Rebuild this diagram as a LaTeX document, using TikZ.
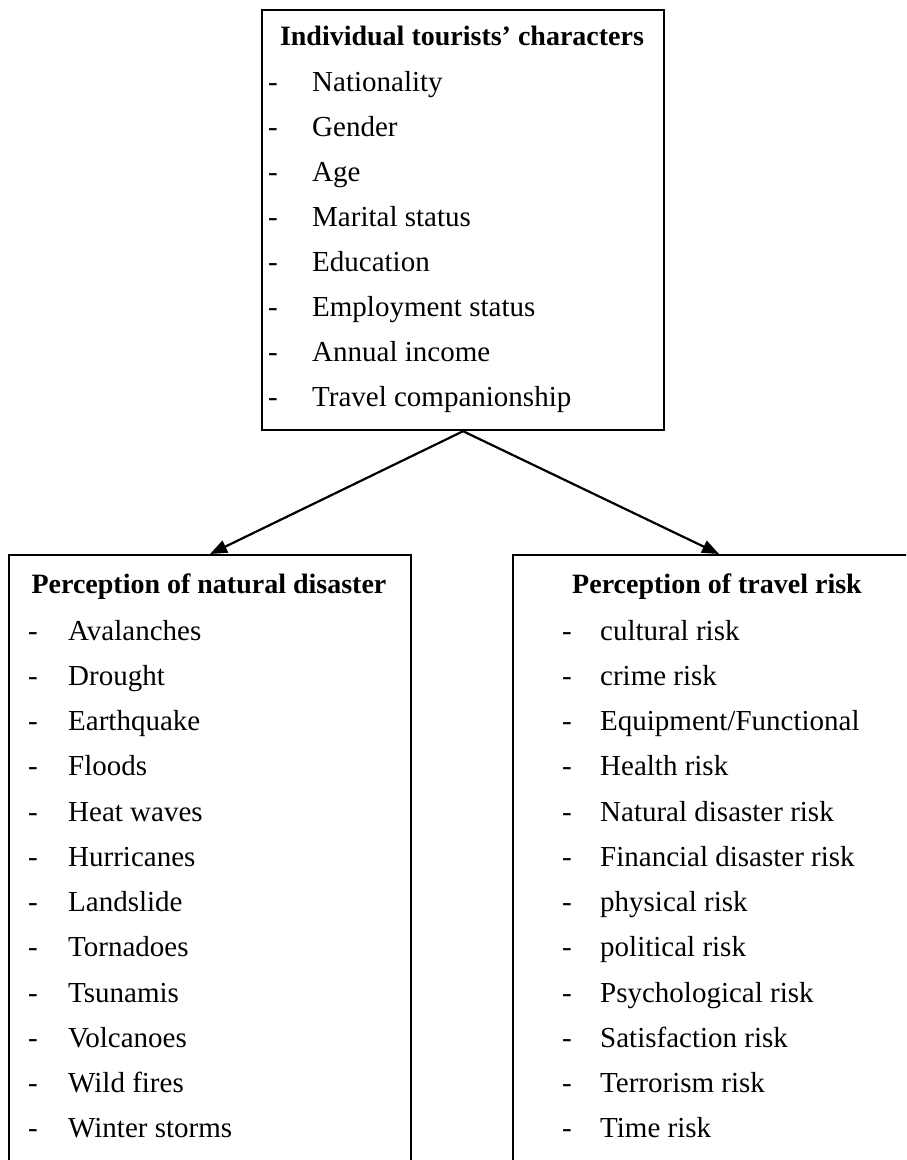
\documentclass[tikz,border=0pt]{standalone}
\usepackage{fontspec}
\setmainfont{Liberation Serif}
\usetikzlibrary{arrows.meta}

\begin{document}
\begin{tikzpicture}[x=1pt,y=-1pt,
  box/.style={draw=black,line width=2.2pt,shape=rectangle,inner sep=0pt,anchor=north west},
  headtext/.style={inner sep=0pt,anchor=base,font=\fontsize{28}{34}\selectfont\bfseries},
  dashtext/.style={inner sep=0pt,anchor=base west,font=\fontsize{29}{34}\selectfont},
  itemtext/.style={inner sep=0pt,anchor=base west,font=\fontsize{29}{34}\selectfont},
  arrow/.style={draw=black,line width=2.2pt,-{Triangle[length=17pt,width=13pt]}}]

%% - Page frame (boxes run past the lower and right edge)
%% - --------------------------------------

\useasboundingbox (0,0) rectangle (906,1160);
\clip (0,0) rectangle (906,1160);

%% - Draw boxes
%% - --------------------------------------

\node[box,minimum width=402pt,minimum height=420pt] (tourist) at (261,9) {};
\node[box,minimum width=402pt,minimum height=700pt] (natural) at (8,554) {};
\node[box,minimum width=412pt,minimum height=700pt] (travel) at (512,554) {};

%% - Draw arrows
%% - --------------------------------------

\draw[arrow] (tourist.south) -- (natural.north);
\draw[arrow] (tourist.south) -- (travel.north);

%% - Individual tourists' characters
%% - --------------------------------------

\node[headtext] (touristhead) at (462,45) {Individual tourists’ characters};

\node[dashtext] (td1) at (268,91) {-};
\node[dashtext] (td2) at (268,136) {-};
\node[dashtext] (td3) at (268,181) {-};
\node[dashtext] (td4) at (268,226) {-};
\node[dashtext] (td5) at (268,271) {-};
\node[dashtext] (td6) at (268,316) {-};
\node[dashtext] (td7) at (268,361) {-};
\node[dashtext] (td8) at (268,406) {-};

\node[itemtext] (nationality) at (312,91) {Nationality};
\node[itemtext] (gender) at (312,136) {Gender};
\node[itemtext] (age) at (312,181) {Age};
\node[itemtext] (marital) at (312,226) {Marital status};
\node[itemtext] (education) at (312,271) {Education};
\node[itemtext] (employment) at (312,316) {Employment status};
\node[itemtext] (income) at (312,361) {Annual income};
\node[itemtext] (companion) at (312,406) {Travel companionship};

%% - Perception of natural disaster
%% - --------------------------------------

\node[headtext] (naturalhead) at (209,593) {Perception of natural disaster};

\node[dashtext] (nd1) at (28,640) {-};
\node[dashtext] (nd2) at (28,685) {-};
\node[dashtext] (nd3) at (28,730) {-};
\node[dashtext] (nd4) at (28,775) {-};
\node[dashtext] (nd5) at (28,821) {-};
\node[dashtext] (nd6) at (28,866) {-};
\node[dashtext] (nd7) at (28,911) {-};
\node[dashtext] (nd8) at (28,956) {-};
\node[dashtext] (nd9) at (28,1002) {-};
\node[dashtext] (nd10) at (28,1047) {-};
\node[dashtext] (nd11) at (28,1092) {-};
\node[dashtext] (nd12) at (28,1137) {-};

\node[itemtext] (avalanches) at (68,640) {Avalanches};
\node[itemtext] (drought) at (68,685) {Drought};
\node[itemtext] (earthquake) at (68,730) {Earthquake};
\node[itemtext] (floods) at (68,775) {Floods};
\node[itemtext] (heatwaves) at (68,821) {Heat waves};
\node[itemtext] (hurricanes) at (68,866) {Hurricanes};
\node[itemtext] (landslide) at (68,911) {Landslide};
\node[itemtext] (tornadoes) at (68,956) {Tornadoes};
\node[itemtext] (tsunamis) at (68,1002) {Tsunamis};
\node[itemtext] (volcanoes) at (68,1047) {Volcanoes};
\node[itemtext] (wildfires) at (68,1092) {Wild fires};
\node[itemtext] (winterstorms) at (68,1137) {Winter storms};

%% - Perception of travel risk
%% - --------------------------------------

\node[headtext] (travelhead) at (717,593) {Perception of travel risk};

\node[dashtext] (rd1) at (562,640) {-};
\node[dashtext] (rd2) at (562,685) {-};
\node[dashtext] (rd3) at (562,730) {-};
\node[dashtext] (rd4) at (562,775) {-};
\node[dashtext] (rd5) at (562,821) {-};
\node[dashtext] (rd6) at (562,866) {-};
\node[dashtext] (rd7) at (562,911) {-};
\node[dashtext] (rd8) at (562,956) {-};
\node[dashtext] (rd9) at (562,1002) {-};
\node[dashtext] (rd10) at (562,1047) {-};
\node[dashtext] (rd11) at (562,1092) {-};
\node[dashtext] (rd12) at (562,1137) {-};

\node[itemtext] (cultural) at (600,640) {cultural risk};
\node[itemtext] (crime) at (600,685) {crime risk};
\node[itemtext] (equipment) at (600,730) {Equipment/Functional};
\node[itemtext] (health) at (600,775) {Health risk};
\node[itemtext] (naturalrisk) at (600,821) {Natural disaster risk};
\node[itemtext] (financial) at (600,866) {Financial disaster risk};
\node[itemtext] (physical) at (600,911) {physical risk};
\node[itemtext] (political) at (600,956) {political risk};
\node[itemtext] (psychological) at (600,1002) {Psychological risk};
\node[itemtext] (satisfaction) at (600,1047) {Satisfaction risk};
\node[itemtext] (terrorism) at (600,1092) {Terrorism risk};
\node[itemtext] (timerisk) at (600,1137) {Time risk};

\end{tikzpicture}
\end{document}
